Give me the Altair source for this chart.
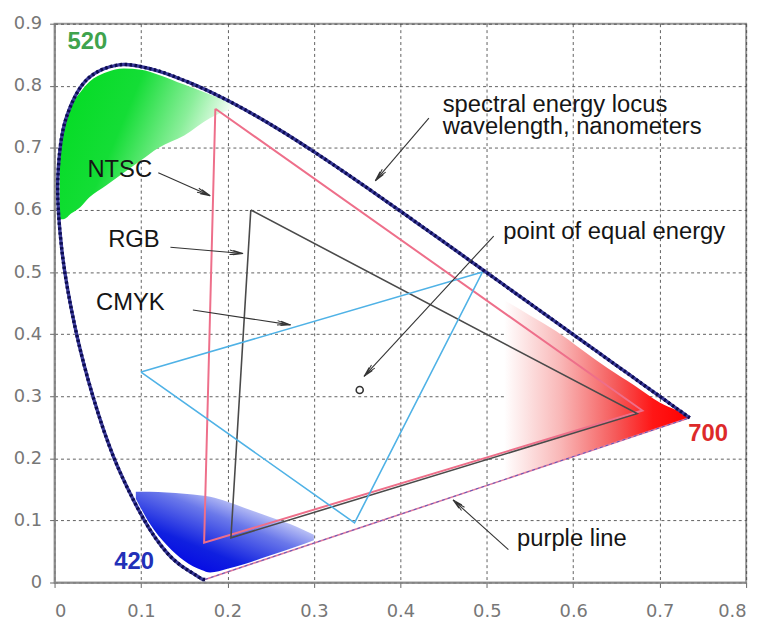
import math
import altair as alt
import pandas as pd

# ---------------- data ----------------
wavelength = list(range(380, 705, 5))
locus_x = [0.1741, 0.1740, 0.1738, 0.1736, 0.1733, 0.1730, 0.1726, 0.1721, 0.1714, 0.1703,
           0.1689, 0.1669, 0.1644, 0.1611, 0.1566, 0.1510, 0.1440, 0.1355, 0.1241, 0.1096,
           0.0913, 0.0687, 0.0454, 0.0235, 0.0082, 0.0039, 0.0139, 0.0389, 0.0743, 0.1142,
           0.1547, 0.1929, 0.2296, 0.2658, 0.3016, 0.3373, 0.3731, 0.4087, 0.4441, 0.4788,
           0.5125, 0.5448, 0.5752, 0.6029, 0.6270, 0.6482, 0.6658, 0.6801, 0.6915, 0.7006,
           0.7079, 0.7140, 0.7190, 0.7230, 0.7260, 0.7283, 0.7300, 0.7311, 0.7320, 0.7327,
           0.7334, 0.7340, 0.7344, 0.7346, 0.7347]
locus_y = [0.0050, 0.0050, 0.0049, 0.0049, 0.0048, 0.0048, 0.0048, 0.0048, 0.0051, 0.0058,
           0.0069, 0.0086, 0.0109, 0.0138, 0.0177, 0.0227, 0.0297, 0.0399, 0.0578, 0.0868,
           0.1327, 0.2007, 0.2950, 0.4127, 0.5384, 0.6548, 0.7502, 0.8120, 0.8338, 0.8262,
           0.8059, 0.7816, 0.7543, 0.7243, 0.6923, 0.6589, 0.6245, 0.5896, 0.5547, 0.5202,
           0.4866, 0.4544, 0.4242, 0.3965, 0.3725, 0.3514, 0.3340, 0.3197, 0.3083, 0.2993,
           0.2920, 0.2859, 0.2809, 0.2770, 0.2740, 0.2717, 0.2700, 0.2689, 0.2680, 0.2673,
           0.2666, 0.2660, 0.2656, 0.2654, 0.2653]

purple_x = [0.1741, 0.7347]
purple_y = [0.0050, 0.2653]

ntsc_x = [0.186, 0.680, 0.173, 0.186]
ntsc_y = [0.763, 0.277, 0.064, 0.763]
rgb_x = [0.227, 0.674, 0.204, 0.227]
rgb_y = [0.600, 0.272, 0.072, 0.600]
cmyk_x = [0.100, 0.495, 0.347, 0.100]
cmyk_y = [0.339, 0.500, 0.096, 0.339]

equal_x = [0.353]
equal_y = [0.310]

# colour patches (x, upper y, lower y)
green_x = [0.006, 0.010, 0.020, 0.030, 0.040, 0.060, 0.080, 0.100, 0.120, 0.150, 0.180, 0.215]
green_top = [0.700, 0.735, 0.770, 0.790, 0.806, 0.822, 0.828, 0.826, 0.818, 0.802, 0.786, 0.768]
green_bot = [0.585, 0.585, 0.595, 0.605, 0.620, 0.640, 0.660, 0.680, 0.700, 0.720, 0.748, 0.768]

blue_x = [0.094, 0.110, 0.130, 0.150, 0.170, 0.180, 0.200, 0.220, 0.250, 0.280, 0.300]
blue_top = [0.146, 0.146, 0.145, 0.143, 0.140, 0.138, 0.130, 0.120, 0.105, 0.090, 0.077]
blue_bot = [0.135, 0.095, 0.060, 0.035, 0.020, 0.016, 0.022, 0.030, 0.044, 0.058, 0.068]

red_x = [0.520, 0.550, 0.580, 0.610, 0.640, 0.670, 0.700, 0.720, 0.735]
red_top = [0.455, 0.430, 0.405, 0.375, 0.345, 0.318, 0.290, 0.277, 0.266]
red_bot = [0.167, 0.180, 0.194, 0.208, 0.222, 0.235, 0.249, 0.258, 0.265]

# annotations
arrow_tail_x = [0.120, 0.134, 0.160, 0.433, 0.508, 0.525]
arrow_tail_y = [0.660, 0.540, 0.439, 0.748, 0.558, 0.053]
arrow_tip_x = [0.180, 0.218, 0.273, 0.371, 0.358, 0.461]
arrow_tip_y = [0.623, 0.530, 0.415, 0.647, 0.332, 0.133]

label_text = ["spectral energy locus", "wavelength, nanometers", "point of equal energy",
              "purple line", "NTSC", "RGB", "CMYK"]
label_x = [0.449, 0.449, 0.519, 0.535, 0.038, 0.062, 0.048]
label_y = [0.758, 0.722, 0.554, 0.059, 0.653, 0.540, 0.439]

nm_text = ["520", "420", "700"]
nm_x = [0.015, 0.069, 0.733]
nm_y = [0.859, 0.021, 0.228]
nm_color = ["#3fa34d", "#2230b8", "#dd2a2a"]

# ---------------- chart ----------------
W, H = 698, 564
XMAX, YMAX = 0.8, 0.9
FONT = "Liberation Sans"

xs = alt.Scale(domain=[0, XMAX], nice=False, zero=False)
ys = alt.Scale(domain=[0, YMAX], nice=False, zero=False)
label_expr = "datum.value == 0 ? '0' : format(datum.value, '.1f')"
xaxis = alt.Axis(values=[i / 10 for i in range(9)], labelExpr=label_expr, title=None,
                 grid=True, labelPadding=15)
yaxis = alt.Axis(values=[i / 10 for i in range(10)], labelExpr=label_expr, title=None,
                 grid=True, labelPadding=8)
X = alt.X("x:Q", scale=xs, axis=xaxis)
Y = alt.Y("y:Q", scale=ys, axis=yaxis)


def patch(xv, top, bot, grad):
    df = pd.DataFrame({"x": xv, "y": top, "y2": bot})
    return alt.Chart(df).mark_area(color=grad, opacity=1, line=False,
                                   interpolate="monotone").encode(x=X, y=Y, y2="y2:Q")


green = alt.LinearGradient(gradient="linear", x1=0, y1=0, x2=1, y2=0.35, stops=[
    alt.GradientStop(color="#00dc20", offset=0),
    alt.GradientStop(color="#14dd36", offset=0.42),
    alt.GradientStop(color="#8aee9a", offset=0.72),
    alt.GradientStop(color="#ffffff", offset=0.95)])
blue = alt.LinearGradient(gradient="linear", x1=0.2, y1=1, x2=1, y2=0.1, stops=[
    alt.GradientStop(color="#0000e6", offset=0),
    alt.GradientStop(color="#1020e0", offset=0.28),
    alt.GradientStop(color="#6a78ea", offset=0.58),
    alt.GradientStop(color="#ffffff", offset=0.88)])
red = alt.LinearGradient(gradient="linear", x1=0, y1=0, x2=1, y2=0, stops=[
    alt.GradientStop(color="#ffffff", offset=0),
    alt.GradientStop(color="#f9b8b8", offset=0.3),
    alt.GradientStop(color="#f55a5a", offset=0.6),
    alt.GradientStop(color="#ff1616", offset=0.8),
    alt.GradientStop(color="#ff0000", offset=1)])

patches = [patch(green_x, green_top, green_bot, green),
           patch(blue_x, blue_top, blue_bot, blue),
           patch(red_x, red_top, red_bot, red)]

purple_df = pd.DataFrame({"x": purple_x, "y": purple_y})
purple = alt.Chart(purple_df).mark_line(color="#e07a9e", strokeWidth=1.6).encode(x=X, y=Y)
purple2 = alt.Chart(purple_df).mark_line(color="#5a5ac0", strokeWidth=1, strokeDash=[3, 3]).encode(x=X, y=Y)

tri_rows = []
for name, tx, ty, col, w in [("NTSC", ntsc_x, ntsc_y, "#ee6f8a", 2.0),
                             ("RGB", rgb_x, rgb_y, "#4a4a4a", 1.6),
                             ("CMYK", cmyk_x, cmyk_y, "#4fb2e6", 1.6)]:
    for i, (a, b) in enumerate(zip(tx, ty)):
        tri_rows.append({"tri": name, "o": i, "x": a, "y": b, "c": col, "w": w})
tri_df = pd.DataFrame(tri_rows)
tris = alt.Chart(tri_df).mark_line().encode(
    x=X, y=Y, order="o:Q", detail="tri:N",
    color=alt.Color("c:N", scale=None),
    strokeWidth=alt.StrokeWidth("w:Q", scale=None))

locus_df = pd.DataFrame({"nm": wavelength, "x": locus_x, "y": locus_y})
locus = alt.Chart(locus_df).mark_line(color="#3a3a9a", strokeWidth=3.4,
                                      interpolate="catmull-rom").encode(x=X, y=Y, order="nm:Q")
locus2 = alt.Chart(locus_df).mark_line(color="#0c0c50", strokeWidth=3.4, strokeDash=[2.5, 2.5],
                                       interpolate="catmull-rom").encode(x=X, y=Y, order="nm:Q")

equal = alt.Chart(pd.DataFrame({"x": equal_x, "y": equal_y})).mark_point(
    shape="circle", filled=False, size=50, color="#333333", strokeWidth=1.6, opacity=1).encode(x=X, y=Y)

px_per_x = W / XMAX
px_per_y = H / YMAX
angles = []
for tx0, ty0, tx1, ty1 in zip(arrow_tail_x, arrow_tail_y, arrow_tip_x, arrow_tip_y):
    dx = (tx1 - tx0) * px_per_x
    dy = -(ty1 - ty0) * px_per_y
    angles.append(math.degrees(math.atan2(dx, -dy)) % 360)
arrow_df = pd.DataFrame({"x": arrow_tail_x, "y": arrow_tail_y,
                         "x2": arrow_tip_x, "y2": arrow_tip_y, "ang": angles})
shafts = alt.Chart(arrow_df).mark_rule(color="#333333", strokeWidth=1.1).encode(
    x=X, y=Y, x2="x2:Q", y2="y2:Q")
heads = alt.Chart(arrow_df).mark_point(
    shape="M-0.45,2L0,0L0.45,2M-0.45,2.7L0,0.7L0.45,2.7", filled=False, size=100,
    color="#333333", strokeWidth=1, opacity=1).encode(
    x=alt.X("x2:Q", scale=xs, axis=xaxis), y=alt.Y("y2:Q", scale=ys, axis=yaxis),
    angle=alt.Angle("ang:Q", scale=None))

labels = alt.Chart(pd.DataFrame({"x": label_x, "y": label_y, "t": label_text})).mark_text(
    font=FONT, fontSize=24, align="left", baseline="alphabetic", color="#151515").encode(
    x=X, y=Y, text="t:N")
nms = alt.Chart(pd.DataFrame({"x": nm_x, "y": nm_y, "t": nm_text, "c": nm_color})).mark_text(
    font=FONT, fontSize=24, fontWeight="bold", align="left", baseline="alphabetic").encode(
    x=X, y=Y, text="t:N", color=alt.Color("c:N", scale=None))

chart = alt.layer(*patches, purple, purple2, tris, locus, locus2, equal, shafts, heads,
                  labels, nms).properties(
    width=W, height=H,
    autosize=alt.AutoSizeParams(type="none"),
    padding={"left": 47, "top": 13, "right": 14, "bottom": 38},
).configure_view(stroke="#999999", strokeWidth=2).configure_axis(
    domainColor="#888888", domainWidth=1.5, tickColor="#666666", tickSize=5,
    gridColor="#444444", gridDash=[3, 3], gridOpacity=0.85, gridWidth=1,
    labelColor="#777777", labelFont="DejaVu Sans", labelFontSize=18)

chart.save("out.html", embed_options={"renderer": "svg", "actions": False})
